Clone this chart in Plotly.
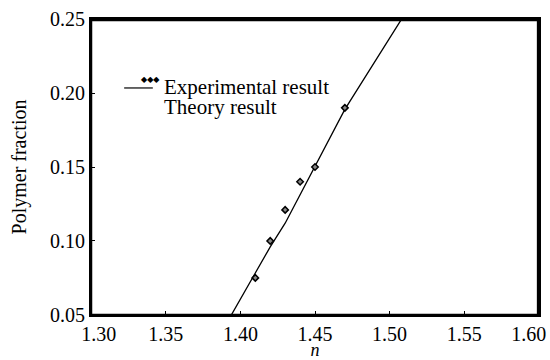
import plotly.graph_objects as go

exp_n = [1.41, 1.42, 1.43, 1.44, 1.45, 1.47]
exp_frac = [0.075, 0.100, 0.121, 0.140, 0.150, 0.190]
theory_n = [1.394, 1.420, 1.430, 1.445, 1.470, 1.508]
theory_frac = [0.050, 0.096, 0.112, 0.141, 0.189, 0.250]
x_ticks = [1.30, 1.35, 1.40, 1.45, 1.50, 1.55, 1.60]
x_ticktext = ["\u00a0\u00a0\u00a01.30", "1.35", "1.40", "1.45", "1.50", "1.55", "1.60\u00a0\u00a0\u00a0\u00a0"]
y_ticks = [0.05, 0.10, 0.15, 0.20, 0.25]

FONT = "Liberation Serif"
FS = 20

fig = go.Figure()
fig.add_trace(go.Scatter(x=theory_n, y=theory_frac, mode="lines",
                         line=dict(color="black", width=1.3), name="Theory result",
                         showlegend=False))
fig.add_trace(go.Scatter(x=exp_n, y=exp_frac, mode="markers",
                         marker=dict(symbol="diamond", size=5, color="#888",
                                     line=dict(color="black", width=1.5)),
                         name="Experimental result", showlegend=False))

axis_common = dict(showgrid=False, zeroline=False, showline=True, linecolor="black",
                   linewidth=2, mirror=True, ticks="inside", ticklen=4,
                   tickcolor="black", ticklabeloverflow="allow",
                   tickfont=dict(family=FONT, size=FS, color="black"))

fig.update_xaxes(range=[1.2999, 1.6001], tickvals=x_ticks, ticktext=x_ticktext,
                 title=dict(text="<i>n</i>", font=dict(family=FONT, size=18, color="black"),
                            standoff=10),
                 **axis_common)
fig.update_yaxes(range=[0.0499, 0.2501], tickvals=y_ticks,
                 ticktext=[f"{v:.2f}" for v in y_ticks],
                 title=dict(text="Polymer fraction", font=dict(family=FONT, size=FS, color="black"),
                            standoff=18),
                 **axis_common)

# manual legend
LFS = 21
fig.add_annotation(xref="paper", yref="paper", x=0.107, y=0.818, text="◆◆◆",
                   showarrow=False, font=dict(family="DejaVu Sans", size=8, color="black"))
fig.add_annotation(xref="paper", yref="paper", x=0.158, y=0.818, text="Experimental result",
                   xanchor="left", showarrow=False, font=dict(family=FONT, size=LFS, color="black"))
fig.add_shape(type="line", xref="paper", yref="paper", x0=0.074, x1=0.138, y0=0.767, y1=0.767,
              line=dict(color="black", width=1.2))
fig.add_annotation(xref="paper", yref="paper", x=0.158, y=0.750, text="Theory result",
                   xanchor="left", showarrow=False, font=dict(family=FONT, size=LFS, color="black"))
# frame (slightly inset so the top and right edges stay inside the view)
fig.add_shape(type="rect", xref="paper", yref="paper", x0=0, x1=0.998, y0=0, y1=0.997,
              line=dict(color="black", width=2.5), layer="above")

fig.update_layout(width=550, height=360, margin=dict(l=91, r=11, t=19, b=45, autoexpand=False),
                  plot_bgcolor="white", paper_bgcolor="white",
                  font=dict(family=FONT, color="black"))
fig.write_html("out.html", config={"displayModeBar": False},
               post_script="document.body.style.margin='0';document.body.style.overflow='hidden';")
